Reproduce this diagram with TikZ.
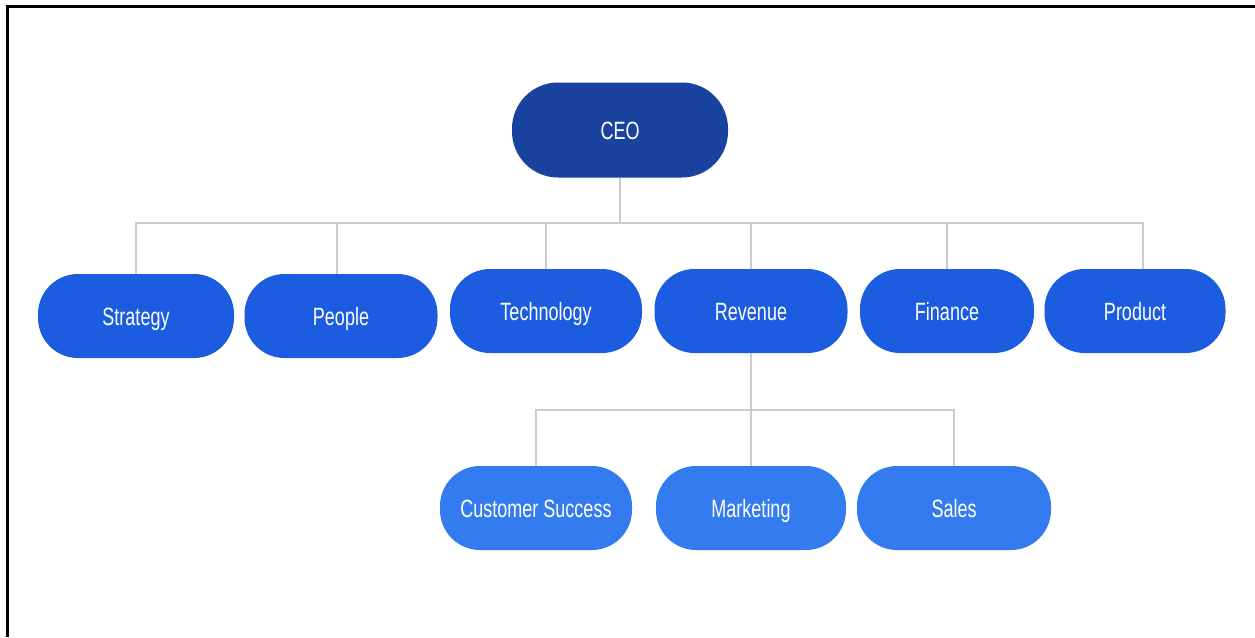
\documentclass[tikz,border=0pt]{standalone}
\usepackage{fontspec}
\setmainfont{Liberation Sans}
\newfontfamily\orgfont[FakeStretch=0.72]{Liberation Sans}
\usetikzlibrary{positioning}
\definecolor{ceoblue}{HTML}{1A43A0}
\definecolor{deptblue}{HTML}{1C5CE0}
\definecolor{teamblue}{HTML}{347BF0}
\definecolor{linegray}{HTML}{CCCCCC}

\begin{document}
\begin{tikzpicture}[x=1pt,y=-1pt,
    box/.style={rectangle,rounded corners=40pt,minimum width=193pt,minimum height=84pt,
                inner sep=0pt,text height=18pt,text depth=0pt,text=white,
                font=\orgfont\fontsize{25}{30}\selectfont},
    top/.style={box,fill=ceoblue,minimum width=216pt,minimum height=95pt,rounded corners=46pt},
    dept/.style={box,fill=deptblue},
    team/.style={box,fill=teamblue},
    link/.style={draw=linegray,line width=1.6pt}]
    \useasboundingbox (0,0) rectangle (1255,637);
    % frame
    \draw[line width=3pt] (1255,6) -- (7,6) -- (7,637);

    \node[top] (ceo) at (620,130) {CEO};

    \node[dept,minimum width=196pt] (strat) at (136,316) {Strategy};
    \node[dept] (people) at (341,316) {People};
    \node[dept,minimum width=192pt] (tech) at (546,311) {Technology};
    \node[dept] (rev) at (751,311) {Revenue};
    \node[dept,minimum width=174pt] (fin) at (947,311) {Finance};
    \node[dept,minimum width=181pt] (prod) at (1135,311) {Product};

    \node[team,minimum width=192pt] (cs) at (536,508) {Customer Success};
    \node[team,minimum width=190pt] (mkt) at (751,508) {Marketing};
    \node[team,minimum width=194pt] (sales) at (954,508) {Sales};

    \coordinate (bus) at (620,223);
    \coordinate (revbus) at (751,410);

    % CEO to departments
    \path[link] (ceo.south) -- (bus) -| (strat.north)
                (bus) -| ([xshift=-4pt]people.north)
                (bus) -| (tech.north)
                (bus) -| (rev.north)
                (bus) -| (fin.north)
                (bus) -| ([xshift=8pt]prod.north);
    % Revenue to teams
    \path[link] (rev.south) -- (revbus) -| (cs.north)
                (revbus) -- (mkt.north)
                (revbus) -| (sales.north);
\end{tikzpicture}
\end{document}
